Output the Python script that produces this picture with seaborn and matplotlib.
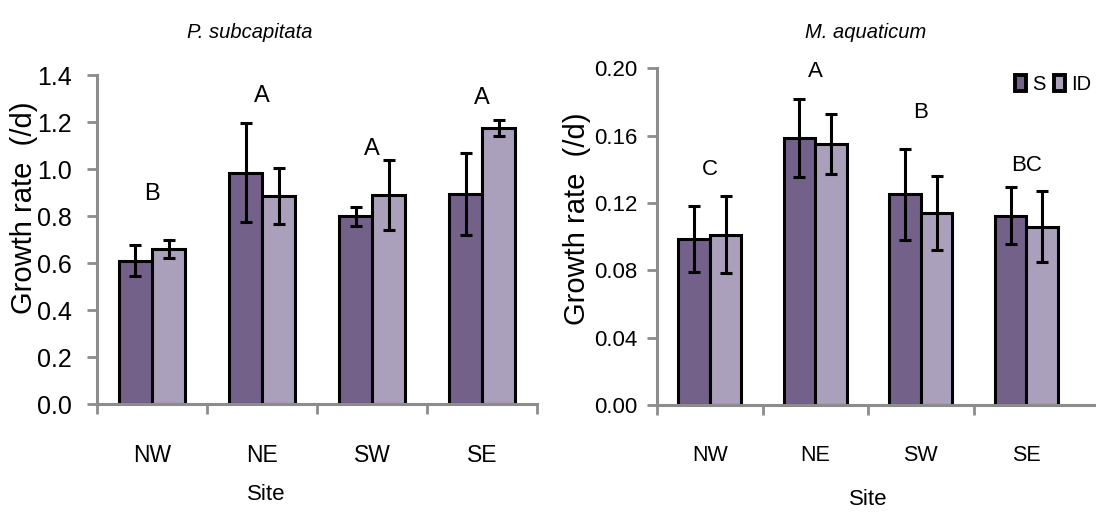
import numpy as np
import pandas as pd
import matplotlib
matplotlib.use("Agg")
import matplotlib.pyplot as plt
import seaborn as sns

sns.set_style("white")
plt.rcParams['font.family'] = ['Liberation Sans', 'DejaVu Sans']
plt.rcParams['text.color'] = 'black'
plt.rcParams['axes.labelcolor'] = 'black'
plt.rcParams['xtick.labelcolor'] = 'black'
plt.rcParams['ytick.labelcolor'] = 'black'

sites = ["NW", "NE", "SW", "SE"]
treatments = ["S", "ID"]

# P. subcapitata
ps_S = [0.61, 0.985, 0.80, 0.895]
ps_S_err = [0.065, 0.21, 0.04, 0.175]
ps_ID = [0.66, 0.885, 0.89, 1.175]
ps_ID_err = [0.04, 0.12, 0.15, 0.035]
ps_letters = ["B", "A", "A", "A"]
ps_letter_y = [0.895, 1.31, 1.085, 1.305]

# M. aquaticum
ma_S = [0.0985, 0.1585, 0.1252, 0.1125]
ma_S_err = [0.0195, 0.023, 0.027, 0.017]
ma_ID = [0.1012, 0.155, 0.114, 0.106]
ma_ID_err = [0.023, 0.018, 0.022, 0.021]
ma_letters = ["C", "A", "B", "BC"]
ma_letter_y = [0.140, 0.198, 0.1735, 0.1425]

dark = "#735a91"
light = "#aa9bc0"
grey = "#8c8c8c"


def make_df(s, s_err, i, i_err):
    return pd.DataFrame({
        "Site": sites * 2,
        "Treatment": ["S"] * 4 + ["ID"] * 4,
        "rate": s + i,
        "err": s_err + i_err,
    })


fig = plt.figure(figsize=(10.96, 5.15), dpi=100)
ax1 = fig.add_axes([0.0885, 0.2155, 0.4015, 0.6385])
ax2 = fig.add_axes([0.5995, 0.2136, 0.4005, 0.6538])


def draw(ax, df, letters, letter_y, ylim, yticks, fmt, xmax, fs, ypad, ylab_xy, xlab_xy):
    # fs: (yticks, xticks, letters, xlabel)
    sns.barplot(data=df, x="Site", y="rate", hue="Treatment", order=sites,
                hue_order=treatments, palette=[dark, light], width=0.6,
                edgecolor="black", linewidth=2.2, errorbar=None, ax=ax,
                legend=(ax is ax2))
    # error bars on bar centres
    for cont, t in zip(ax.containers, treatments):
        sub = df[df.Treatment == t].set_index("Site").loc[sites]
        xs = [p.get_x() + p.get_width() / 2 for p in cont.patches]
        ys = [p.get_height() for p in cont.patches]
        ax.errorbar(xs, ys, yerr=sub["err"].values, fmt="none", ecolor="black",
                    elinewidth=2.2, capsize=4.5, capthick=2.2, zorder=5)
    for k, (lab, ly) in enumerate(zip(letters, letter_y)):
        ax.text(k, ly, lab, ha="center", va="center", fontsize=fs[2])
    ax.set_ylim(*ylim)
    ax.set_yticks(yticks)
    ax.set_yticklabels([fmt.format(v) for v in yticks], fontsize=fs[0])
    ax.set_xlim(-0.5, xmax)
    ax.set_xticks(range(4))
    ax.set_xticklabels(sites, fontsize=fs[1])
    ax.set_xticks([-0.5, 0.5, 1.5, 2.5] + ([3.5] if xmax <= 3.5 else []), minor=True)
    ax.tick_params(axis="x", which="major", length=0, pad=29)
    ax.tick_params(axis="x", which="minor", length=7, width=2, color=grey,
                   direction="out", bottom=True)
    ax.tick_params(axis="y", length=7, width=2, color=grey, direction="out",
                   left=True, pad=ypad)
    for s in ["top", "right"]:
        ax.spines[s].set_visible(False)
    for s in ["left", "bottom"]:
        ax.spines[s].set_color(grey)
        ax.spines[s].set_linewidth(2.2)
    ax.set_xlabel("Site", fontsize=fs[3])
    ax.xaxis.set_label_coords(*xlab_xy)
    ax.set_ylabel("Growth rate  (/d)", fontsize=21)
    ax.yaxis.set_label_coords(*ylab_xy)


draw(ax1, make_df(ps_S, ps_S_err, ps_ID, ps_ID_err), ps_letters, ps_letter_y,
     (0, 1.4), np.arange(0, 1.41, 0.2), "{:.1f}", 3.5,
     (18, 16.5, 17, 16), 11, (-0.135, 0.596), (0.384, -0.243))
draw(ax2, make_df(ma_S, ma_S_err, ma_ID, ma_ID_err), ma_letters, ma_letter_y,
     (0, 0.2), np.arange(0, 0.201, 0.04), "{:.2f}", 3.66,
     (16, 15.5, 16, 16), 7, (-0.150, 0.552), (0.481, -0.250))

fig.text(250 / 1096, 1 - 33 / 515, "P. subcapitata", fontsize=14.5,
         style="italic", ha="center", va="center")
fig.text(866 / 1096, 1 - 33 / 515, "M. aquaticum", fontsize=14.5,
         style="italic", ha="center", va="center")

leg = ax2.legend(loc="upper right", bbox_to_anchor=(0.99, 0.98), ncol=2,
                 frameon=False, fontsize=14.5, handlelength=0.55, handleheight=0.8,
                 handletextpad=0.3, columnspacing=0.45, borderaxespad=0,
                 borderpad=0)
for h in leg.legend_handles:
    h.set_linewidth(2.8)

fig.savefig("out.png", dpi=100)
